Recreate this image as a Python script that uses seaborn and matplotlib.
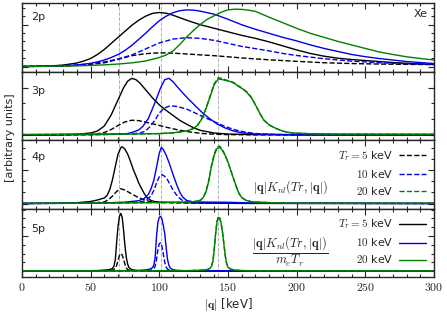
import numpy as np
import matplotlib
matplotlib.use("Agg")
import matplotlib.pyplot as plt
from matplotlib.lines import Line2D
from matplotlib.ticker import MultipleLocator, FuncFormatter
import seaborn as sns

# --- data (arbitrary units, baseline = 0) ---

# 2p
q_2p_k5 = [0, 10, 20, 30, 40, 45, 50, 55, 60, 65, 70, 75, 80, 85, 90, 95, 100, 105, 110, 120, 130, 140,
           150, 160, 170, 180, 190, 200, 210, 220, 230, 240, 250, 260, 270, 280, 290, 300]
y_2p_k5 = [0.1, 0.2, 0.5, 1.5, 3.5, 5.5, 8, 12, 17, 23, 29, 35, 41, 46, 50, 52.8, 53.7, 53, 51, 46, 41.5, 38,
           34.5, 31, 28, 24.5, 20.5, 16.5, 13, 10.3, 8.3, 7, 6, 5, 4, 3.3, 2.6, 2]
q_2p_k10 = [0, 10, 20, 30, 40, 50, 55, 60, 65, 70, 75, 80, 85, 90, 95, 100, 105, 110, 115, 120, 125, 130, 140,
            150, 160, 170, 180, 190, 200, 210, 220, 230, 240, 250, 260, 270, 280, 290, 300]
y_2p_k10 = [0.1, 0.2, 0.3, 0.6, 1.5, 3.2, 4.7, 6.5, 9, 12, 16, 21, 27, 33, 39.5, 45.5, 50, 53.5, 55.5, 56.3, 56, 55, 52,
            47, 41.5, 37, 33, 29, 25.5, 21.5, 18, 15, 12, 9.8, 8, 6.5, 5, 4, 3]
q_2p_k20 = [0, 20, 40, 50, 60, 70, 80, 90, 100, 105, 110, 115, 120, 125, 130, 135, 140, 145, 150, 155, 160, 165,
            170, 180, 190, 200, 210, 220, 230, 240, 250, 260, 270, 280, 290, 300]
y_2p_k20 = [0.1, 0.3, 0.7, 1.1, 1.7, 2.5, 3.7, 5.5, 9, 11.5, 15.5, 22, 29.5, 36, 42, 47, 50.5, 54, 56.3, 57, 56.8, 56,
            54.8, 49, 43.5, 38, 33, 29, 25, 21.5, 18, 14.5, 12, 9.7, 8, 6.5]
q_2p_m5 = [0, 20, 30, 40, 50, 60, 70, 80, 90, 100, 110, 120, 130, 140, 150, 160, 170, 180, 200, 220, 240, 260, 280, 300]
y_2p_m5 = [0.1, 0.3, 0.6, 1.2, 2.2, 3.7, 7.2, 10.8, 12.8, 13.7, 13.3, 12.5, 11.6, 10.8, 9.7, 8.6, 7.6, 6.7, 5.2, 3.8,
           3, 2.5, 2.2, 2]
q_2p_m10 = [0, 20, 30, 40, 50, 60, 70, 80, 90, 100, 110, 120, 130, 140, 150, 160, 170, 180, 190, 200, 220, 240, 260,
            280, 300]
y_2p_m10 = [0.1, 0.4, 0.8, 1.5, 2.8, 4.6, 7.5, 11.5, 17.5, 23.5, 27.3, 28.7, 28, 26, 23, 20, 17.8, 15.5, 13, 11, 7.8,
            5.4, 3.8, 2.8, 2.3]

# 3p
q_3p_k5 = [0, 20, 40, 50, 55, 60, 65, 68, 71, 74, 77, 80, 83, 86, 90, 95, 100, 105, 110, 115, 120, 125, 130, 140,
           150, 170, 200, 300]
y_3p_k5 = [0, 0.2, 0.8, 2, 4, 9, 20, 29, 38, 47, 53.5, 56.3, 55, 51.5, 45, 37, 30, 24.5, 19.5, 14.5, 10.7, 7.2, 4.6,
           2, 1, 0.4, 0.2, 0.1]
q_3p_m5 = [0, 30, 45, 55, 60, 65, 70, 75, 80, 85, 90, 95, 100, 105, 110, 115, 120, 130, 140, 150, 170, 300]
y_3p_m5 = [0, 0.2, 0.6, 1.2, 2.5, 5.5, 9.5, 13, 14.7, 14.3, 12.8, 11.2, 9.5, 7.8, 6.2, 4.7, 3.5, 1.7, 0.8, 0.4, 0.2,
           0.1]
q_3p_k10 = [0, 40, 60, 70, 76, 80, 85, 88, 92, 95, 98, 101, 104, 107, 110, 113, 117, 122, 127, 132, 137, 142, 148,
            154, 160, 170, 200, 300]
y_3p_k10 = [0, 0.3, 0.6, 0.9, 1.3, 2.5, 5, 8.5, 16.3, 26, 36.3, 47, 55, 56.3, 53, 48, 42, 34.7, 28, 21.3, 16, 11, 7,
            4, 2.2, 1, 0.3, 0.1]
q_3p_m10 = [0, 50, 70, 80, 86, 90, 93, 97, 100, 104, 108, 112, 116, 120, 126, 132, 138, 144, 150, 156, 162, 170, 185,
            300]
y_3p_m10 = [0, 0.3, 0.7, 1.2, 2, 4, 8, 15, 22, 27, 29, 28.5, 27.3, 25.7, 22, 18, 14.5, 10.7, 7.5, 4.8, 3, 1.5, 0.5,
            0.1]
q_3p_k20 = [0, 20, 40, 60, 80, 100, 110, 115, 120, 125, 128, 131, 134, 137, 140, 143, 146, 149, 152, 155, 158, 161,
            164, 167, 170, 173, 176, 180, 185, 190, 197, 210, 230, 260, 300]
y_3p_k20 = [0.5, 0.7, 0.8, 0.9, 1, 1.4, 2.2, 3, 4, 6.5, 10, 16, 26, 38, 50, 55.7, 55, 54, 53, 51, 48, 45.5, 42, 37,
            30, 22, 15, 10, 6.5, 3.8, 2, 1.3, 1, 0.9, 0.8]
y_3p_m20 = [0.5, 0.7, 0.8, 0.9, 1, 1.4, 2.2, 3, 4, 6.5, 10, 16.5, 26.5, 39, 51, 57, 56, 54.5, 53.5, 51.5, 48.5, 46,
            42.5, 37.5, 30, 22, 15, 10, 6.5, 3.8, 2, 1.3, 1, 0.9, 0.8]

# 4p
q_4p_k5 = [0, 30, 40, 50, 55, 60, 62, 64, 66, 68, 70, 72, 73, 75, 77, 79, 81, 83, 85, 87, 89, 91, 94, 97, 100, 110,
           120, 130, 140, 160, 300]
y_4p_k5 = [0, 0.3, 0.8, 2, 3.5, 5.5, 8, 14, 24, 37, 49, 55.5, 56.3, 54, 49, 42, 34, 27.5, 20.5, 15, 10, 6, 3, 1.8,
           1.4, 1.1, 0.9, 0.6, 0.3, 0.1, 0]
q_4p_m5 = [0, 40, 55, 60, 63, 66, 69, 72, 75, 78, 81, 84, 87, 90, 93, 97, 105, 120, 140, 300]
y_4p_m5 = [0, 0.3, 0.9, 1.6, 3.7, 7.5, 12, 14.7, 13.3, 11, 8.7, 6.5, 4.7, 3.2, 2, 1.2, 0.8, 0.5, 0.2, 0]
q_4p_k10 = [0, 40, 60, 75, 85, 89, 92, 94, 96, 98, 100, 101.5, 103, 105, 107, 109, 111, 113, 115, 117, 120, 125, 135,
            150, 165, 180, 300]
y_4p_k10 = [0, 0.2, 0.6, 1.3, 2.8, 5, 9, 14.5, 23, 36, 50, 55.7, 53.5, 48, 41, 33, 25, 17.5, 11, 6.5, 3, 1.6, 1.4,
            1.2, 0.6, 0.2, 0]
q_4p_m10 = [0, 60, 80, 88, 91, 94, 96, 98, 100, 102, 104, 106, 108, 110, 112, 114, 117, 121, 130, 300]
y_4p_m10 = [0, 0.3, 0.9, 2, 4, 7.5, 13, 20.5, 26.5, 28.7, 27, 23.5, 18.5, 13.5, 9.5, 6.2, 3, 1.3, 0.5, 0]
q_4p_k20 = [0, 60, 100, 115, 125, 130, 132, 134, 136, 138, 140, 142, 144, 146, 148, 150, 152, 154, 156, 158, 160,
            163, 167, 172, 178, 185, 195, 300]
y_4p_k20 = [0.2, 0.5, 0.9, 1.2, 1.8, 3.2, 6, 11.5, 22, 37, 48, 54.5, 55.7, 52.5, 47.5, 41, 33, 25, 17, 10, 6, 3.2,
            1.8, 1.4, 1, 0.6, 0.3, 0.2]
y_4p_m20 = [0.2, 0.5, 0.9, 1.2, 1.8, 3.2, 6, 12, 23, 38, 49.5, 56, 57, 53.5, 48, 41, 33, 25, 17, 10, 6, 3.2,
            1.8, 1.4, 1, 0.6, 0.3, 0.2]

# 5p
q_5p_k5 = [0, 40, 55, 62, 65, 66, 67, 68, 69, 70, 71, 72, 73, 74, 75, 76, 77, 78, 80, 83, 90, 100, 300]
y_5p_k5 = [0, 0.2, 0.6, 1.3, 2, 3, 5, 12, 30, 46, 56, 59, 55, 42, 26, 14, 7, 3.5, 1.5, 0.8, 0.3, 0.1, 0]
q_5p_m5 = [0, 60, 66, 68, 69, 70, 71, 72, 73, 74, 75, 76, 77, 79, 85, 300]
y_5p_m5 = [0, 0.3, 1, 3, 6, 11, 16, 18, 16.5, 12, 7, 3.5, 1.5, 0.6, 0.2, 0]
q_5p_k10 = [0, 60, 85, 90, 93, 95, 96, 97, 98, 99, 100, 101, 102, 103, 104, 105, 106, 107, 108, 110, 113, 120, 140,
            300]
y_5p_k10 = [0, 0.2, 0.6, 1.2, 2, 3.5, 6, 14, 36, 50, 55, 56, 53, 46, 38, 24, 12, 6, 3, 1.4, 0.8, 0.3, 0.1, 0]
q_5p_m10 = [0, 80, 94, 96, 97, 98, 99, 100, 101, 102, 103, 104, 105, 106, 108, 112, 300]
y_5p_m10 = [0, 0.2, 1, 2.5, 5, 12, 22, 28, 29, 25, 17, 9, 4, 2, 0.8, 0.3, 0]
q_5p_k20 = [0, 80, 120, 130, 135, 137, 138, 139, 140, 141, 142, 143, 144, 145, 146, 147, 148, 149, 150, 152, 155,
            160, 170, 300]
y_5p_k20 = [0.2, 0.3, 0.5, 0.9, 1.6, 3, 5, 10, 22, 38, 50, 55, 54, 49, 40, 28, 16, 8, 4, 2, 1.1, 0.6, 0.3, 0.2]
y_5p_m20 = [0.2, 0.3, 0.5, 0.9, 1.6, 3, 5, 10, 23, 39, 51, 56, 54.5, 49, 40, 28, 16, 8, 4, 2, 1.1, 0.6, 0.3, 0.2]

ref_lines = [71, 101, 143]
shells = ["2p", "3p", "4p", "5p"]
energy_labels = [r"$T_r = 5$ keV", r"$10$ keV", r"$20$ keV"]
colors = ["black", "#0000ee", "#008000"]

panels = [
    [(q_2p_k5, y_2p_k5, q_2p_m5, y_2p_m5), (q_2p_k10, y_2p_k10, q_2p_m10, y_2p_m10), (q_2p_k20, y_2p_k20, None, None)],
    [(q_3p_k5, y_3p_k5, q_3p_m5, y_3p_m5), (q_3p_k10, y_3p_k10, q_3p_m10, y_3p_m10), (q_3p_k20, y_3p_k20, q_3p_k20, y_3p_m20)],
    [(q_4p_k5, y_4p_k5, q_4p_m5, y_4p_m5), (q_4p_k10, y_4p_k10, q_4p_m10, y_4p_m10), (q_4p_k20, y_4p_k20, q_4p_k20, y_4p_m20)],
    [(q_5p_k5, y_5p_k5, q_5p_m5, y_5p_m5), (q_5p_k10, y_5p_k10, q_5p_m10, y_5p_m10), (q_5p_k20, y_5p_k20, q_5p_k20, y_5p_m20)],
]

# y-axis extents / tick spacing per panel (arbitrary units)
ylims = [(-5, 63), (-5, 63), (-5, 63), (-6, 64)]
ymajor = [41.5, 47, 33, 36]
yminor = [8.3, 15.7, 11, 9]
label_y = [0.80, 0.72, 0.76, 0.70]

sns.set_style("ticks")
plt.rcParams["font.family"] = ["DejaVu Sans"]
plt.rcParams["mathtext.fontset"] = "cm"

fig, axes = plt.subplots(4, 1, figsize=(4.47, 3.13), dpi=100, sharex=True)
plt.subplots_adjust(left=0.049, right=0.971, top=0.99, bottom=0.115, hspace=0)

for i, ax in enumerate(axes):
    for q0 in ref_lines:
        ax.axvline(q0, color="#b0b0b0", ls="--", lw=0.7, zorder=0)
    for (qk, yk, qm, ym), c in zip(panels[i], colors):
        if qm is not None:
            sns.lineplot(x=qm, y=ym, ax=ax, color=c, lw=1.0, linestyle="--")
        sns.lineplot(x=qk, y=yk, ax=ax, color=c, lw=1.0)
    ax.set_xlim(0, 300)
    ax.set_ylim(*ylims[i])
    ax.yaxis.set_major_locator(MultipleLocator(ymajor[i]))
    ax.yaxis.set_minor_locator(MultipleLocator(yminor[i]))
    ax.set_yticklabels([])
    ax.xaxis.set_major_locator(MultipleLocator(50))
    ax.xaxis.set_minor_locator(MultipleLocator(10))
    ax.tick_params(which="both", direction="in", top=True, right=True, width=0.8)
    ax.tick_params(which="major", length=4)
    ax.tick_params(which="minor", length=2)
    for s in ax.spines.values():
        s.set_linewidth(1.0)
    ax.set_ylabel("")
    ax.text(0.022, label_y[i], shells[i], transform=ax.transAxes, fontsize=8, va="center", ha="left")

axes[0].text(0.985, 0.84, "Xe", transform=axes[0].transAxes, fontsize=8, va="center", ha="right")

# legends
dash_h = [Line2D([], [], color=c, ls="--", lw=1.0) for c in colors]
solid_h = [Line2D([], [], color=c, lw=1.0) for c in colors]
for ax, hs in [(axes[2], dash_h), (axes[3], solid_h)]:
    ax.legend(hs, energy_labels, loc="upper right", bbox_to_anchor=(0.985, 0.90), frameon=False,
              markerfirst=False, fontsize=8, handlelength=2.4, handletextpad=0.5,
              labelspacing=0.45, borderaxespad=0.0, borderpad=0.2)

axes[2].text(0.652, 0.31, r"$|\mathbf{q}|K_{nl}(Tr,|\mathbf{q}|)$", transform=axes[2].transAxes,
             fontsize=9, ha="center", va="center")
axes[3].text(0.652, 0.36, r"$\dfrac{|\mathbf{q}|K_{nl}(Tr,|\mathbf{q}|)}{m_e T_r}$", transform=axes[3].transAxes,
             fontsize=9, ha="center", va="center")

axes[3].xaxis.set_major_formatter(FuncFormatter(lambda v, p: f"${v:g}$"))
axes[3].tick_params(axis="x", labelsize=8.5, pad=3)
axes[3].set_xlabel(r"$|\mathbf{q}|$ [keV]", fontsize=8.5, labelpad=1)
fig.text(0.022, 0.56, "[arbitrary units]", rotation=90, fontsize=8, ha="center", va="center")

fig.savefig("out.png", dpi=100)
